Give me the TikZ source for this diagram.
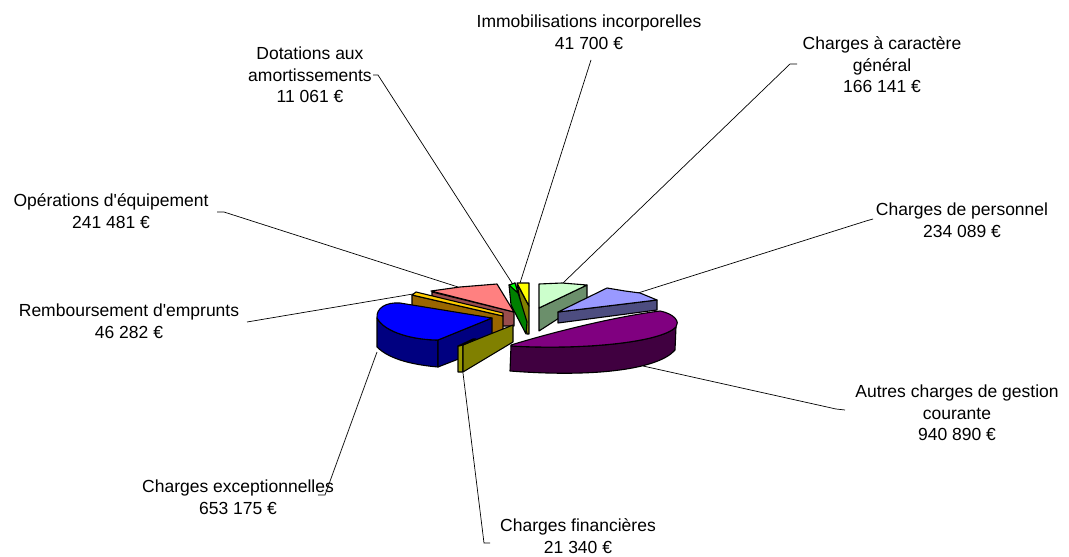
\documentclass[tikz,border=0pt]{standalone}
\usepackage{fontspec}
\setmainfont{Liberation Sans}[Ligatures=TeXOff]
\definecolor{lgreenTop}{HTML}{CCFFCC}
\definecolor{lgreenSide}{HTML}{6B8F6B}
\definecolor{lavTop}{HTML}{9999FF}
\definecolor{lavSide}{HTML}{4D4D80}
\definecolor{purpTop}{HTML}{800080}
\definecolor{purpSide}{HTML}{400040}
\definecolor{olvFront}{HTML}{808000}
\definecolor{olvLeft}{HTML}{999900}
\definecolor{blueTop}{HTML}{0000FF}
\definecolor{blueSide}{HTML}{000080}
\definecolor{goldTop}{HTML}{FFCC00}
\definecolor{goldSide}{HTML}{996600}
\definecolor{salTop}{HTML}{FF8080}
\definecolor{salSide}{HTML}{994D4D}
\definecolor{dGreen}{HTML}{008000}
\definecolor{bGreen}{HTML}{00FF00}
\definecolor{yel}{HTML}{FFFF00}
\begin{document}
\begin{tikzpicture}[x=1pt, y=-1pt,
    lbl/.style = {align=center, inner sep=0pt, font=\fontsize{17.5}{21.5}\selectfont},
    lead/.style = {draw, line width=0.7pt},
    face/.style = {draw, line width=1.1pt, line join=round}]
        \useasboundingbox (0,0) rectangle (1069,557);
        % labels
        \node[lbl] (immo) at (589,32) {Immobilisations incorporelles\\41 700 €};
        \node[lbl] (carac) at (882,65) {Charges à caractère\\général\\166 141 €};
        \node[lbl] (pers) at (962,220) {Charges de personnel\\234 089 €};
        \node[lbl] (autres) at (957,413) {Autres charges de gestion\\courante\\940 890 €};
        \node[lbl] (fin) at (578,536) {Charges financières\\21 340 €};
        \node[lbl] (exc) at (238,497) {Charges exceptionnelles\\653 175 €};
        \node[lbl] (remb) at (129,321) {Remboursement d'emprunts\\46 282 €};
        \node[lbl] (ops) at (111,211) {Opérations d'équipement\\241 481 €};
        \node[lbl] (dot) at (310,75) {Dotations aux\\amortissements\\11 061 €};
        %
        \coordinate (immoA) at (591,60);  \coordinate (immoB) at (520,283);
        \coordinate (dotA) at (373,75);   \coordinate (dotB) at (512,283);
        \coordinate (caracA) at (797,64); \coordinate (caracB) at (563,283);
        \coordinate (persA) at (873,219); \coordinate (persB) at (638,293);
        \coordinate (autresA) at (845,410); \coordinate (autresB) at (643,366);
        \coordinate (finA) at (490,543);  \coordinate (finB) at (463,373);
        \coordinate (excA) at (318,495);  \coordinate (excB) at (377,352);
        \coordinate (rembA) at (247,322); \coordinate (rembB) at (413,294);
        \coordinate (opsA) at (217,212);  \coordinate (opsB) at (458,287);
        % leader lines
        \draw[lead] (immoA) -- (immoB);
        \draw[lead] (dotA) -- ++(5,0) -- (dotB);
        \draw[lead] (caracA) -- ++(-7,0) -- (caracB);
        \draw[lead] (persA) -- ++(-7,2) -- (persB);
        \draw[lead] (autresA) -- ++(-9,-1) -- (autresB);
        \draw[lead] (finA) -- ++(-6,0) -- (finB);
        \draw[lead] (excA) -- ++(7,0) -- (excB);
        \draw[lead] (rembA) -- (rembB);
        \draw[lead] (opsA) -- ++(7,0) -- (opsB);
        % slices, back to front
        \draw[face, fill=olvFront] (517,284) -- (529,306) -- (529,334) -- (527,334) -- cycle;
        \draw[face, fill=yel] (517,283) -- (529,283) -- (529,306) -- cycle;
        \draw[face, fill=dGreen] (509,285) -- (515,283) -- (527,322) -- (526,334) -- (511,305) -- cycle;
        \draw[face, fill=bGreen] (509,285) -- (515,283) -- (518,293) -- cycle;
        %
        \draw[face, fill=salSide] (432,292) -- (514,312) -- (514,326) -- (502,326) -- (502,316) -- (432,296) -- cycle;
        \draw[face, fill=salTop] (431,291) -- (460,287) -- (497,284) -- (514,312) -- cycle;
        \draw[face, fill=goldSide] (412,295) -- (503,316) -- (503,348) -- (412,306) -- cycle;
        \draw[face, fill=goldTop] (412,295) -- (416,292) -- (503,313) -- (503,316) -- cycle;
        %
        \draw[face, fill=lgreenSide] (539,308) -- (587,285) -- (587,300) -- (539,331) -- cycle;
        \draw[face, fill=lgreenTop] (539,284) -- (562,283) -- (587,285) -- (539,308) -- cycle;
        \draw[face, fill=lavSide] (558,312) -- (657,300) -- (657,310) -- (558,323) -- cycle;
        \draw[face, fill=lavTop] (558,312) -- (607,288) -- (625,291) -- (640,293) -- (657,300) -- cycle;
        %
        \draw[face, fill=purpSide] (511,346) .. controls (580,350) and (660,343) .. (676,327)
              -- (675,350) .. controls (660,368) and (600,378) .. (510,371) -- cycle;
        \draw[face, fill=purpTop] (511,345) .. controls (560,330) and (620,316) .. (660,311)
              .. controls (675,314) and (680,322) .. (676,327)
              .. controls (660,343) and (580,350) .. (511,346) -- cycle;
        %
        \draw[face, fill=blueSide] (377,318) -- (377,347) .. controls (390,360) and (415,365) .. (438,367)
              -- (438,340) .. controls (415,340) and (385,333) .. (377,318);
        \draw[face, fill=blueSide] (438,340) -- (492,318) -- (492,346) -- (438,367) -- cycle;
        \draw[face, fill=blueTop] (377,318) .. controls (376,308) and (386,302) .. (400,303) -- (492,318)
              -- (438,340) .. controls (415,340) and (385,333) .. (377,318);
        %
        \draw[face, fill=olvLeft] (458,346) -- (463,345) -- (463,372) -- (458,372) -- cycle;
        \draw[face, fill=olvFront] (463,345) -- (513,325) -- (513,342) -- (463,372) -- cycle;
        \draw[face, fill=yel] (458,346) -- (473,339) -- (476,339) -- (463,345) -- cycle;
\end{tikzpicture}
\end{document}
